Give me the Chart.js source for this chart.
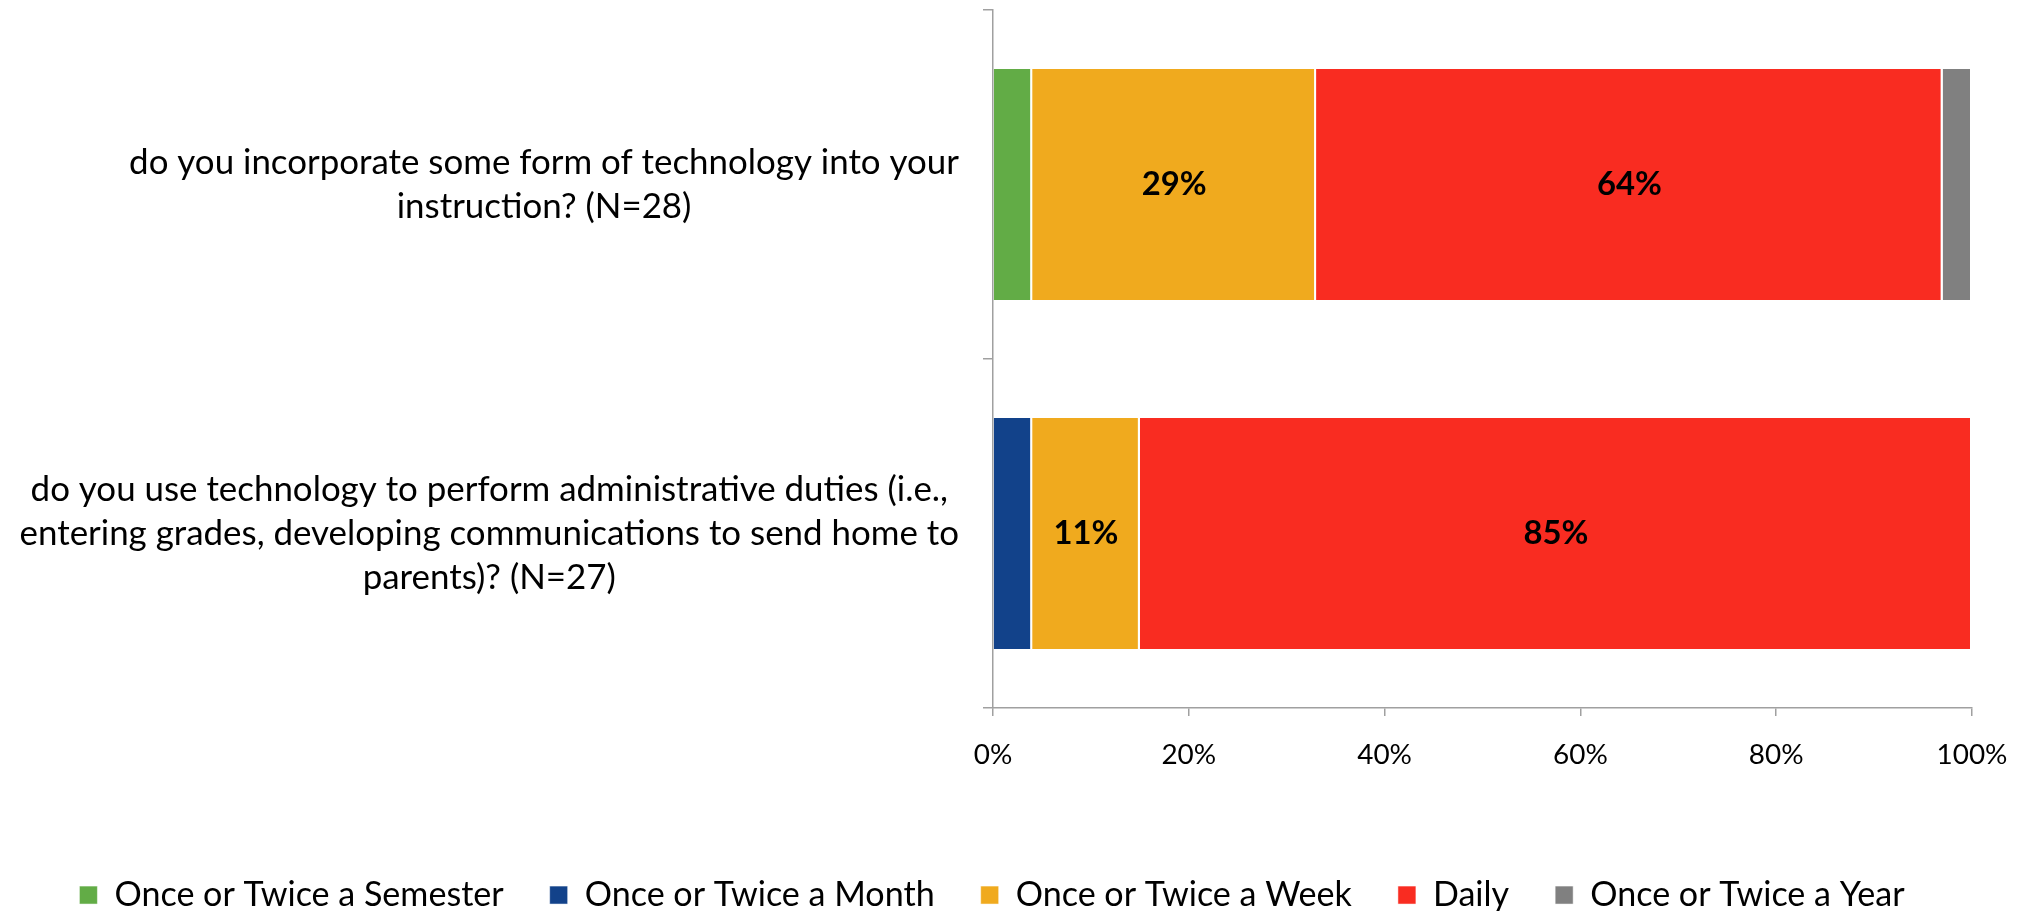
<!DOCTYPE html>
<html><head><meta charset="utf-8">
<script src="https://cdn.jsdelivr.net/npm/chart.js@4.4.1/dist/chart.umd.min.js"></script>
<style>html,body{margin:0;padding:0;background:#fff;overflow:hidden}</style>
</head><body><canvas id="c" width="2030" height="911"></canvas>
<script>
// ---- data ----
const categories = [
  ['do you incorporate some form of technology into your', 'instruction? (N=28)'],
  ['do you use technology to perform administrative duties (i.e.,', 'entering grades, developing communications to send home to', 'parents)? (N=27)']
];
const seriesNames = ['Once or Twice a Semester', 'Once or Twice a Month', 'Once or Twice a Week', 'Daily', 'Once or Twice a Year'];
const semester = [4, 0];
const month = [0, 4];
const week = [29, 11];
const daily = [64, 85];
const year = [3, 0];
const xTickValues = [0, 20, 40, 60, 80, 100];
const labelledSeries = ['Once or Twice a Week', 'Daily'];

// ---- styling ----
const FAMILY = 'Lato, "Open Sans", sans-serif';
const mctx = document.createElement('canvas').getContext('2d');
function fitSize(text, target, weight) {
  mctx.font = weight + ' 100px ' + FAMILY;
  return Math.round(1000 * target / mctx.measureText(text).width) / 10;
}
const catFont = fitSize(categories[0][0], 829, 'normal');
const tickFont = fitSize('100%', 71, 'normal');
const legendFont = fitSize(seriesNames[0], 390, 'normal');
const valueFont = fitSize('29%', 65, 'bold');
const colors = ['#62AC46', '#12428A', '#F0AA1E', '#F92C21', '#808080'];
const seriesValues = [semester, month, week, daily, year];
const axisColor = '#A0A0A0';

Chart.defaults.font.family = FAMILY;
Chart.defaults.color = '#000';

const valueLabels = {
  id: 'valueLabels',
  afterDatasetsDraw(chart) {
    const ctx = chart.ctx;
    ctx.save();
    ctx.font = 'bold ' + valueFont + 'px ' + FAMILY;
    ctx.fillStyle = '#000';
    ctx.textAlign = 'center';
    ctx.textBaseline = 'middle';
    chart.data.datasets.forEach((ds, di) => {
      if (!labelledSeries.includes(ds.label)) return;
      chart.getDatasetMeta(di).data.forEach((el, i) => {
        const v = ds.data[i];
        if (!v) return;
        const p = el.getProps(['x', 'y', 'base'], true);
        ctx.fillText(v + '%', (p.x + p.base) / 2, p.y);
      });
    });
    ctx.restore();
  }
};
const alignSecondAxis = {
  id: 'alignSecondAxis',
  afterLayout(chart) {
    const a = chart.scales.y, b = chart.scales.y2;
    b.left = a.left; b.right = a.right; b.width = a.width;
    b.top = a.top; b.bottom = a.bottom; b.height = a.height;
    b.configure();
  }
};

const tickGrid = {display: true, drawOnChartArea: false, drawTicks: true, tickLength: 10, color: axisColor, lineWidth: 1.5, offset: true};
const catFontSpec = {size: catFont, lineHeight: 44 / catFont};

new Chart(document.getElementById('c'), {
  type: 'bar',
  data: {
    labels: categories,
    datasets: seriesNames.map((name, i) => ({
      label: name,
      data: seriesValues[i],
      backgroundColor: colors[i],
      borderColor: '#FFFFFF',
      borderWidth: {left: 0, right: 2, top: 0, bottom: 0},
      borderSkipped: false,
      barPercentage: 0.662,
      categoryPercentage: 1.0
    }))
  },
  options: {
    indexAxis: 'y',
    responsive: false,
    animation: false,
    events: [],
    layout: {padding: {left: 0, right: 46, top: 10, bottom: 0}},
    plugins: {
      tooltip: {enabled: false},
      legend: {
        position: 'bottom',
        maxHeight: 79,
        labels: {
          boxWidth: 18, boxHeight: 18, padding: 46,
          font: {size: legendFont}, color: '#000'
        }
      }
    },
    scales: {
      x: {
        stacked: true, min: 0, max: 100,
        grid: {display: true, drawOnChartArea: false, drawTicks: true, tickLength: 8, color: axisColor, lineWidth: 1.5},
        border: {display: true, color: axisColor, width: 1.5},
        afterBuildTicks: s => { s.ticks = xTickValues.map(v => ({value: v})); },
        ticks: {font: {size: tickFont}, color: '#000', padding: 22, maxRotation: 0, autoSkip: false,
          callback: v => v + '%'},
        afterFit: s => { s.height = 124; s.paddingLeft = 0; s.paddingRight = 58; }
      },
      y: {
        stacked: true, position: 'left', offset: true, weight: 0,
        grid: tickGrid,
        border: {display: true, color: axisColor, width: 1.5},
        ticks: {font: catFontSpec, color: '#000', padding: 24, crossAlign: 'center', autoSkip: false,
          callback: function (v, i) { return i === 1 ? this.getLabelForValue(v) : ''; }},
        afterFit: s => { s.width = 993; s.paddingTop = 0; s.paddingBottom = 0; }
      },
      y2: {
        type: 'category', position: 'left', offset: true, weight: -1,
        grid: {display: true, drawOnChartArea: false, drawTicks: true, tickLength: 10, color: 'rgba(0,0,0,0)', offset: true},
        border: {display: false},
        ticks: {font: catFontSpec, color: '#000', padding: 24, crossAlign: 'center', autoSkip: false,
          callback: function (v, i) { return i === 0 ? this.getLabelForValue(v) : ''; }},
        afterFit: s => { s.width = 0; s.paddingTop = 0; s.paddingBottom = 0; }
      }
    }
  },
  plugins: [valueLabels, alignSecondAxis]
});
</script>
</body></html>
